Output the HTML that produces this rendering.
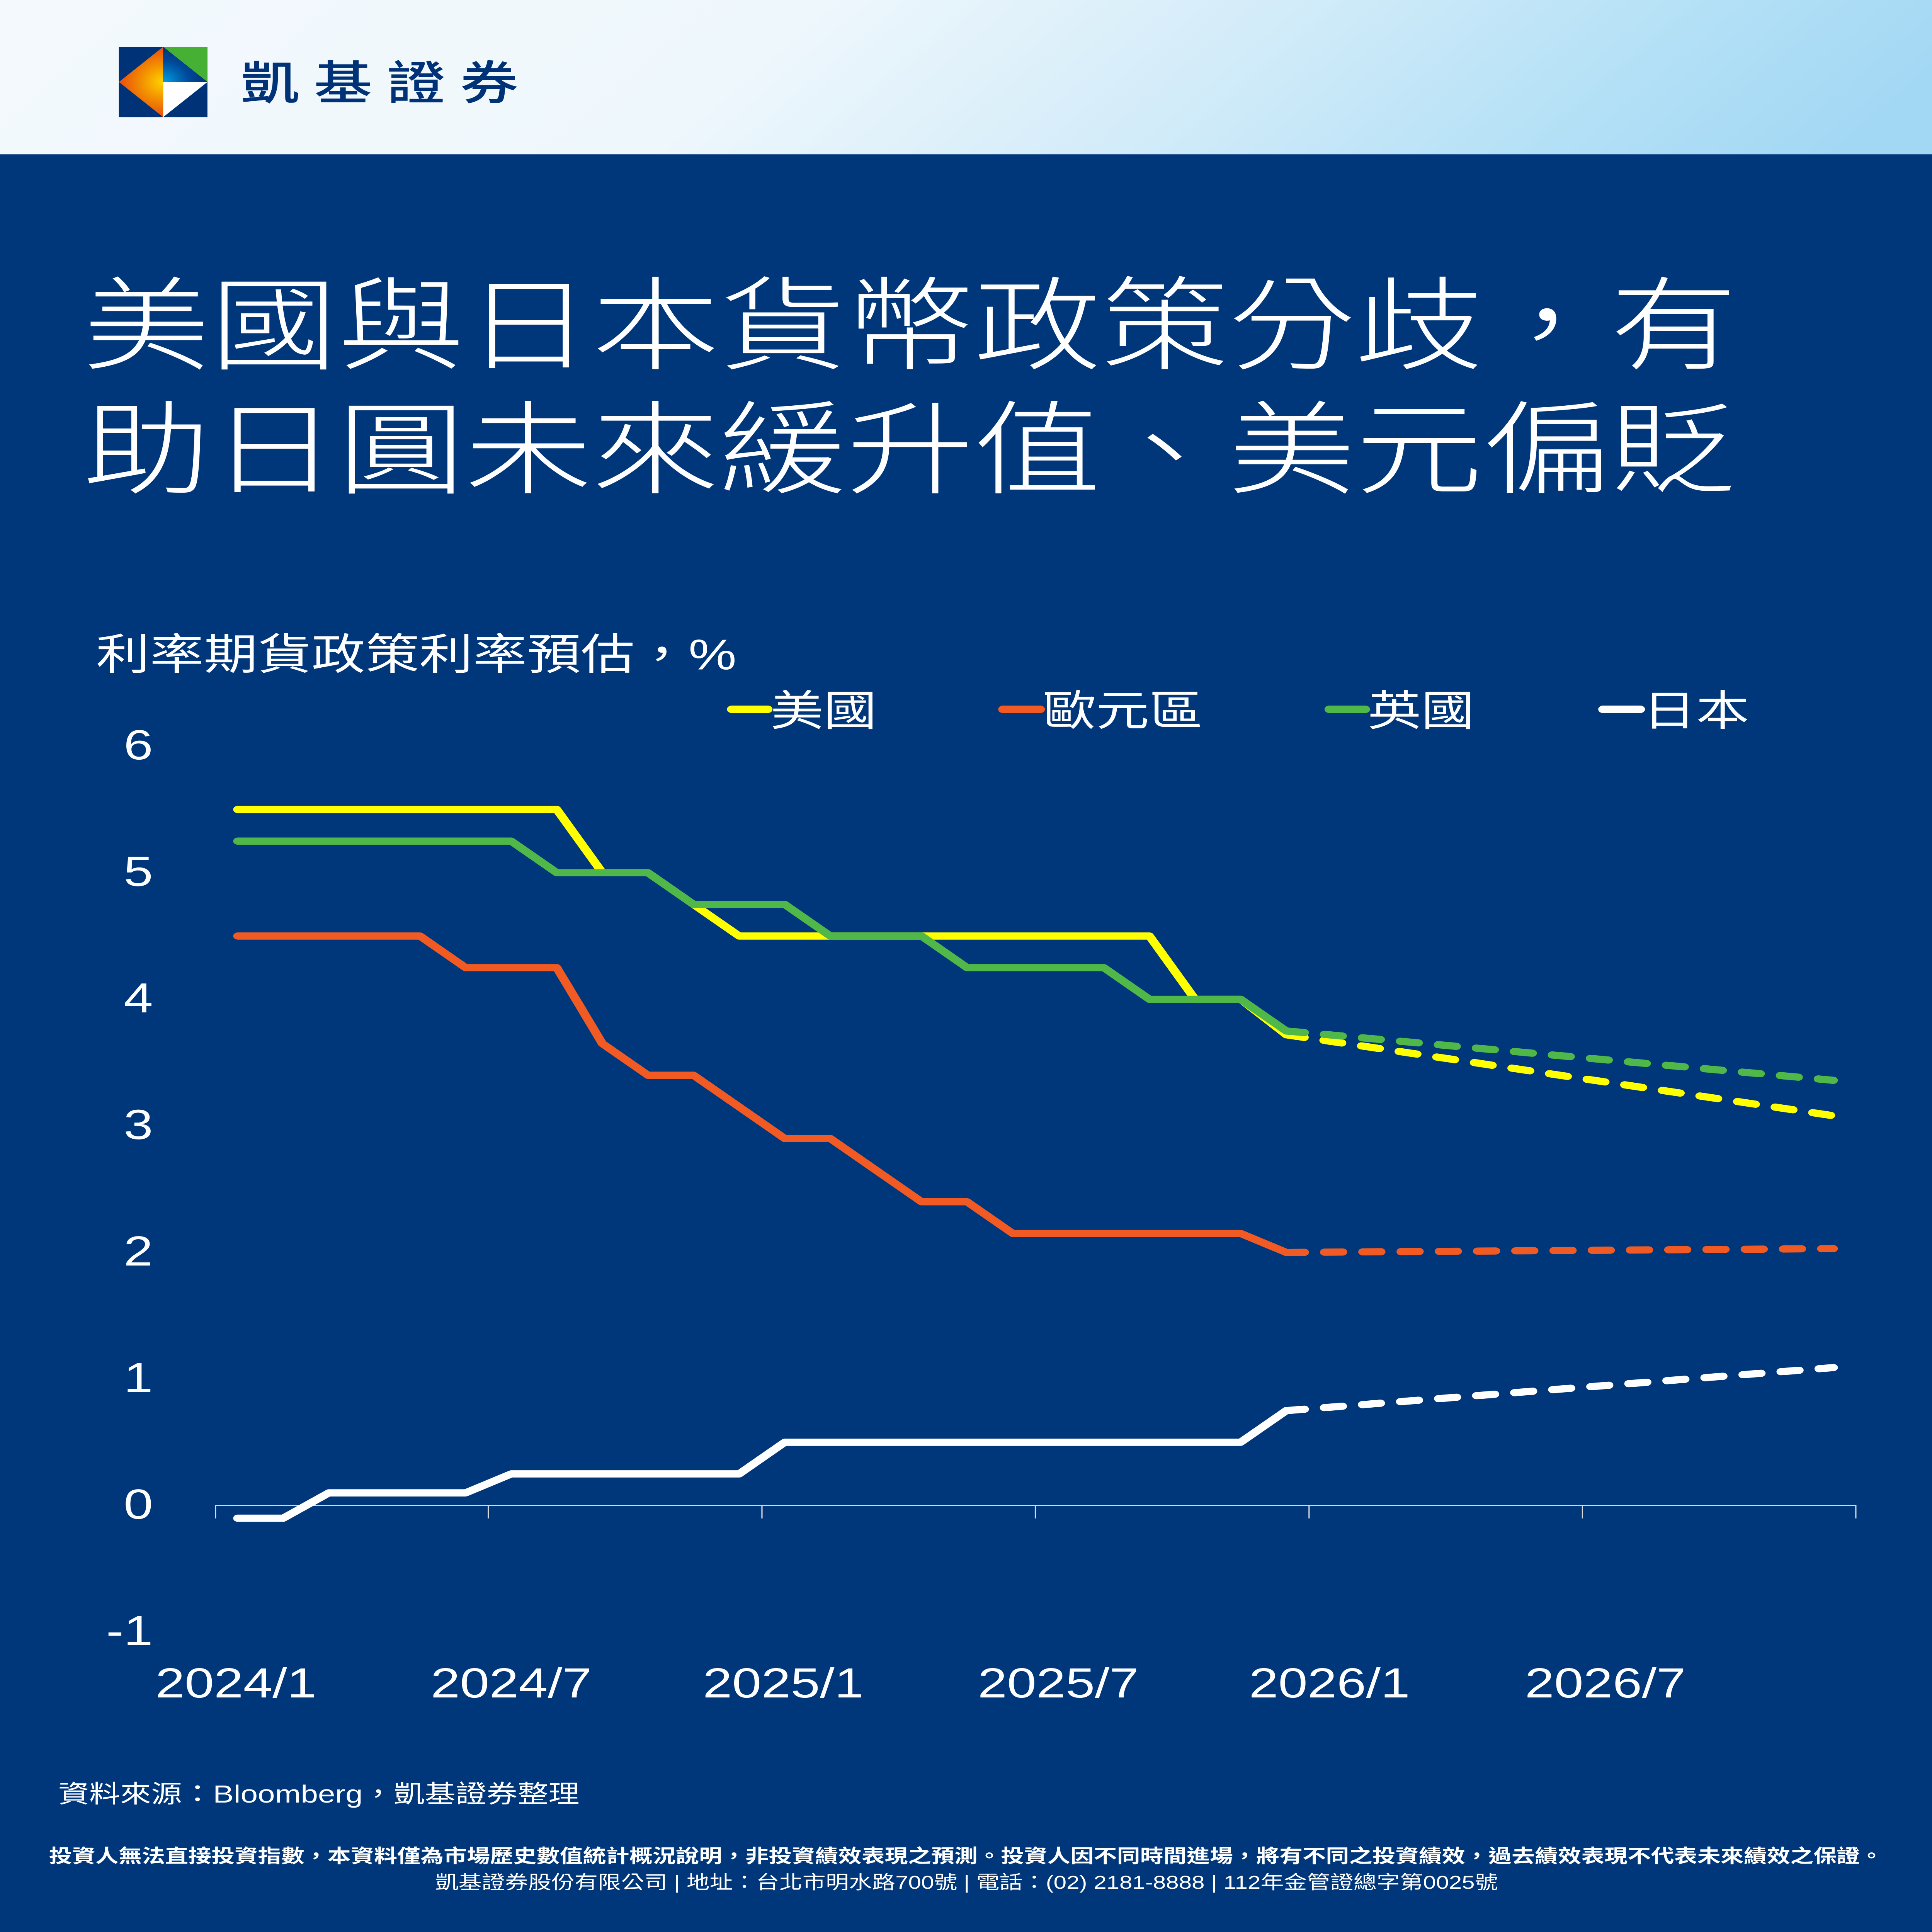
<!DOCTYPE html>
<html><head><meta charset="utf-8"><style>
html,body{margin:0;padding:0;background:#00367a;width:100%;height:100%;overflow:hidden;}
svg{display:block;position:absolute;left:0;top:0;width:100vw;height:100vh;}
text{font-family:"Liberation Sans","Noto Sans CJK TC",sans-serif;}
</style></head><body>
<svg viewBox="0 0 6240 7801" preserveAspectRatio="none" xmlns="http://www.w3.org/2000/svg">
<defs>
<linearGradient id="hdr" gradientUnits="userSpaceOnUse" x1="1470" y1="-1230" x2="4770" y2="1853">
<stop offset="0" stop-color="#f3f9fd"/>
<stop offset="0.38" stop-color="#eef7fc"/>
<stop offset="0.62" stop-color="#d3ecf9"/>
<stop offset="0.85" stop-color="#b3e0f6"/>
<stop offset="1" stop-color="#a3d8f4"/>
</linearGradient>
<radialGradient id="org" gradientUnits="userSpaceOnUse" cx="527" cy="331" r="150">
<stop offset="0" stop-color="#ffd400"/>
<stop offset="0.45" stop-color="#f39200"/>
<stop offset="1" stop-color="#e8460f"/>
</radialGradient>
<radialGradient id="blu" gradientUnits="userSpaceOnUse" cx="527" cy="331" r="140">
<stop offset="0" stop-color="#009fe3"/>
<stop offset="0.6" stop-color="#00499a"/>
<stop offset="1" stop-color="#003278"/>
</radialGradient>
</defs>
<rect x="0" y="0" width="6240" height="7801" fill="#00367a"/>
<rect x="0" y="0" width="6240" height="623" fill="url(#hdr)"/>
<!-- logo -->
<rect x="384" y="189" width="286" height="284" fill="#003278"/>
<polygon points="527,189 384,331 527,473" fill="url(#org)"/>
<polygon points="527,189 670,189 670,331" fill="#46b035"/>
<polygon points="527,189 527,331 670,331" fill="url(#blu)"/>
<polygon points="527,331 670,331 527,473" fill="#ffffff"/>
<text x="778" y="402" font-size="188" font-weight="500" fill="#003278" letter-spacing="48">凱基證券</text>
<!-- title -->
<text x="268" y="1460" font-size="411" font-weight="300" fill="#ffffff">美國與日本貨幣政策分歧，有</text>
<text x="268" y="1961" font-size="411" font-weight="300" fill="#ffffff">助日圓未來緩升值、美元偏貶</text>
<!-- chart subtitle -->
<text x="310" y="2703" font-size="174" fill="#ffffff">利率期貨政策利率預估，%</text>
<!-- legend -->
<g stroke-width="30" stroke-linecap="round">
<line x1="2363" y1="2864" x2="2480" y2="2864" stroke="#ffff00"/>
<line x1="3239" y1="2864" x2="3360" y2="2864" stroke="#f15a22"/>
<line x1="4293" y1="2864" x2="4410" y2="2864" stroke="#50b848"/>
<line x1="5177" y1="2864" x2="5298" y2="2864" stroke="#ffffff"/>
</g>
<g font-size="172" fill="#ffffff">
<text x="2488" y="2930">美國</text>
<text x="3368" y="2930">歐元區</text>
<text x="4418" y="2930">英國</text>
<text x="5306" y="2930">日本</text>
</g>
<!-- y axis labels -->
<g font-size="170" fill="#ffffff" text-anchor="end">
<text x="494" y="3066">6</text>
<text x="494" y="3577">5</text>
<text x="494" y="4088">4</text>
<text x="494" y="4599">3</text>
<text x="494" y="5110">2</text>
<text x="494" y="5621">1</text>
<text x="494" y="6132">0</text>
<text x="494" y="6643">-1</text>
</g>
<!-- x axis -->
<g stroke="#d9d9d9" stroke-width="4">
<line x1="694" y1="6079" x2="5996" y2="6079"/>
<line x1="696" y1="6079" x2="696" y2="6131"/>
<line x1="1577" y1="6079" x2="1577" y2="6131"/>
<line x1="2461" y1="6079" x2="2461" y2="6131"/>
<line x1="3344" y1="6079" x2="3344" y2="6131"/>
<line x1="4228" y1="6079" x2="4228" y2="6131"/>
<line x1="5111" y1="6079" x2="5111" y2="6131"/>
<line x1="5994" y1="6079" x2="5994" y2="6131"/>
</g>
<g font-size="170" fill="#ffffff" text-anchor="middle">
<text x="762" y="6854">2024/1</text>
<text x="1651" y="6854">2024/7</text>
<text x="2530" y="6854">2025/1</text>
<text x="3418" y="6854">2025/7</text>
<text x="4294" y="6854">2026/1</text>
<text x="5185" y="6854">2026/7</text>
</g>
<!-- series solid -->
<g fill="none" stroke-width="29" stroke-linejoin="round" stroke-linecap="round">
<polyline stroke="#ffff00" points="767.6,3268.5 1798.4,3268.5 1945.6,3524 2092.9,3524 2240.1,3651.8 2387.4,3779.5 3712.6,3779.5 3859.9,4035 4007.1,4035 4154.4,4178.1"/>
<polyline stroke="#f15a22" points="767.6,3779.5 1356.6,3779.5 1503.9,3907.3 1798.4,3907.3 1945.6,4213.9 2092.9,4341.6 2240.1,4341.6 2387.4,4469.4 2534.6,4597.1 2681.9,4597.1 2829.1,4724.9 2976.4,4852.6 3123.6,4852.6 3270.9,4980.4 4007.1,4980.4 4154.4,5057"/>
<polyline stroke="#50b848" points="767.6,3396.3 1651.1,3396.3 1798.4,3524 2092.9,3524 2240.1,3651.8 2534.6,3651.8 2681.9,3779.5 2976.4,3779.5 3123.6,3907.3 3565.4,3907.3 3712.6,4035 4007.1,4035 4154.4,4162.8"/>
<polyline stroke="#ffffff" points="767.6,6130.1 914.9,6130.1 1062.1,6027.9 1503.9,6027.9 1651.1,5951.3 2387.4,5951.3 2534.6,5823.5 4007.1,5823.5 4154.4,5695.8"/>
</g>
<!-- series dashed -->
<g fill="none" stroke-width="29" stroke-linecap="round" stroke-dasharray="59 64.5">
<line x1="4154.4" y1="4178.1" x2="5921.4" y2="4505.1" stroke="#ffff00"/>
<line x1="4154.4" y1="5057" x2="5921.4" y2="5041.7" stroke="#f15a22"/>
<line x1="4154.4" y1="4162.8" x2="5921.4" y2="4362.1" stroke="#50b848"/>
<line x1="4154.4" y1="5695.8" x2="5921.4" y2="5522" stroke="#ffffff"/>
</g>
<!-- footer -->
<text x="188" y="7278" font-size="100" fill="#ffffff">資料來源：Bloomberg，凱基證券整理</text>
<text x="3120" y="7520" font-size="75" font-weight="700" fill="#ffffff" text-anchor="middle">投資人無法直接投資指數，本資料僅為市場歷史數值統計概況說明，非投資績效表現之預測。投資人因不同時間進場，將有不同之投資績效，過去績效表現不代表未來績效之保證。</text>
<text x="3122" y="7626" font-size="75" fill="#ffffff" text-anchor="middle">凱基證券股份有限公司 | 地址：台北市明水路700號 | 電話：(02) 2181-8888 | 112年金管證總字第0025號</text>
</svg>
</body></html>
